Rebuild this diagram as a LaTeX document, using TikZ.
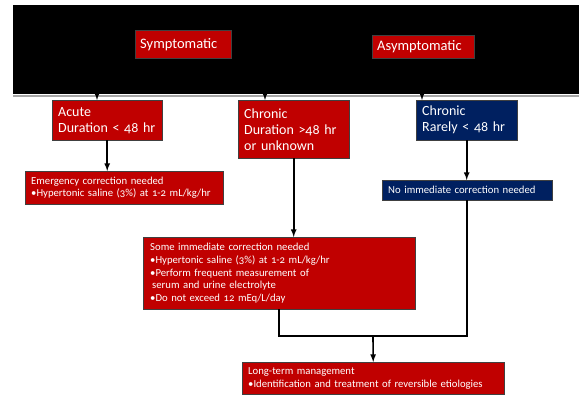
\documentclass[tikz,border=0pt]{standalone}
\usepackage{fontspec}
\setmainfont{Carlito}[Numbers=OldStyle]
\usetikzlibrary{arrows,shadows}
\definecolor{rd}{RGB}{192,0,0}
\definecolor{bl}{RGB}{0,32,96}
\tikzstyle{box}=[draw=black!75,fill=rd,text=white,anchor=north west,inner xsep=6pt,inner ysep=0pt,
	align=left,font=\fontsize{14}{16}\selectfont,
	drop shadow={shadow xshift=1pt,shadow yshift=-1pt,fill=black!35,opacity=1}]
\tikzstyle{small box}=[box,font=\fontsize{10.7}{12.8}\selectfont]
\tikzstyle{blue box}=[fill=bl]
\tikzstyle{link}=[line width=1.6pt]

\begin{document}
\begin{tikzpicture}[x=1pt,y=-1pt,->,>=latex]
	\useasboundingbox (0,0) rectangle (579,395);
	% header band
	\fill[black] (13,5) rectangle (579,94);
	\draw[-,gray!70,line width=1.2pt] (13,96) -- (579,96);
	\node[box,font=\fontsize{14.5}{16}\selectfont,inner xsep=5pt,text width=86pt,minimum height=28pt] (sym) at (135,30) {Symptomatic};
	\node[box,font=\fontsize{14.5}{16}\selectfont,inner xsep=5pt,text width=92pt,minimum height=23pt] (asym) at (372,35) {Asymptomatic};
	\coordinate (b1) at (97,94);
	\coordinate (b2) at (265,94);
	\coordinate (b3) at (422,94);
	% second row
	\node[box,text width=98pt,minimum height=40pt] (acute) at (52,100) {Acute\\Duration < 48 hr};
	\node[box,text width=99pt,minimum height=58pt] (chronA) at (238,100) {Chronic\\Duration >48 hr\\or unknown};
	\node[box,blue box,text width=89pt,minimum height=40pt] (chronB) at (416,100) {Chronic\\Rarely < 48 hr};
	% actions
	\node[small box,text width=186pt,minimum height=33pt] (emerg) at (25,171) {Emergency correction needed\\\textbullet Hypertonic saline (3\%) at 1-2 mL/kg/hr};
	\node[small box,blue box,text width=158pt,minimum height=20pt] (noimm) at (382,180) {No immediate correction needed};
	\node[small box,inner xsep=7pt,text width=258pt,minimum height=72pt] (some) at (143,237) {Some immediate correction needed\\\textbullet Hypertonic saline (3\%) at 1-2 mL/kg/hr\\\textbullet Perform frequent measurement of\\\hspace*{2pt}serum and urine electrolyte\\\textbullet Do not exceed 12 mEq/L/day};
	\node[small box,text width=250pt,minimum height=32pt] (longt) at (242,362) {Long-term management\\\textbullet Identification and treatment of reversible etiologies};
	\coordinate (j) at (373,336);
	% connectors
	\path[link]
		(b1)	edge	(b1 |- acute.north)
		(b2)	edge	(b2 |- chronA.north)
		(b3)	edge	(b3 |- chronB.north)
		(acute.south)	edge	(acute.south |- emerg.north)
		(chronA.south)	edge	(chronA.south |- some.north)
		(chronB.south)	edge	(chronB.south |- noimm.north);
	\draw[link,-] (some.south) |- (j) -| (noimm.south);
	\draw[link] (j) -- (longt.north);
\end{tikzpicture}
\end{document}
